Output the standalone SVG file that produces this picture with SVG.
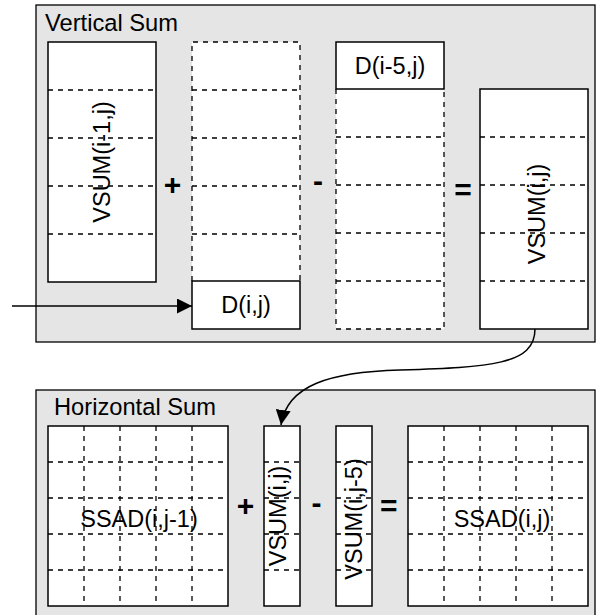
<svg xmlns="http://www.w3.org/2000/svg" width="601" height="615" viewBox="0 0 601 615">
<style>
.panel{fill:#e5e5e5;stroke:#000;stroke-width:1.3}
.box{fill:#fff;stroke:#000;stroke-width:1.5}
.dbox{fill:#fff;stroke:none}
.dash{fill:none;stroke:#000;stroke-width:1.3;stroke-dasharray:5,5}
.lbl{font-family:"Liberation Sans",Arial,sans-serif;font-size:23.5px;fill:#000}
.op{font-family:"Liberation Sans",Arial,sans-serif;font-size:30px;font-weight:bold;fill:#000;text-anchor:middle}
.title{font-family:"Liberation Sans",Arial,sans-serif;font-size:23.7px;fill:#000}
.conn{fill:none;stroke:#000;stroke-width:1.5}
</style>
<defs>
<marker id="ah" markerUnits="userSpaceOnUse" markerWidth="15" markerHeight="15" refX="15" refY="7.5" orient="auto">
<path d="M0,0 L15,7.5 L0,15 z" fill="#000"/>
</marker>
</defs>

<g id="vertical-sum">
<rect class="panel" x="36" y="5" width="559" height="337"/>
<text class="title" x="45" y="30.5">Vertical Sum</text>
</g>

<g id="horizontal-sum">
<rect class="panel" x="36" y="390" width="559" height="235"/>
<text class="title" x="54" y="415">Horizontal Sum</text>
</g>

<g id="vsum-i-1">
<rect class="box" x="48" y="42" width="108" height="240"/>
<path class="dash" d="M48,90H156M48,138H156M48,186H156M48,234H156"/>
<text class="lbl" transform="translate(110,162) rotate(-90)" text-anchor="middle">VSUM(i-1,j)</text>
</g>

<g id="op-plus-1"><text class="op" x="172.5" y="195">+</text></g>

<g id="column-d">
<rect class="dbox" x="192" y="42" width="108" height="239"/>
<path class="dash" d="M192,281V42H300V281"/>
<path class="dash" d="M192,90H300M192,138H300M192,186H300M192,234H300"/>
</g>

<g id="d-i-j">
<rect class="box" x="192" y="281" width="108" height="48"/>
<text class="lbl" x="246" y="313" text-anchor="middle">D(i,j)</text>
</g>

<g id="op-minus-1"><text class="op" x="318" y="190.5">-</text></g>

<g id="column-d5">
<rect class="dbox" x="336" y="89" width="108" height="240"/>
<path class="dash" d="M336,89V329H444V89"/>
<path class="dash" d="M336,137H444M336,185H444M336,233H444M336,281H444"/>
</g>

<g id="d-i-5-j">
<rect class="box" x="336" y="42" width="108" height="47"/>
<text class="lbl" x="390" y="73.5" text-anchor="middle">D(i-5,j)</text>
</g>

<g id="op-eq-1"><text class="op" x="463" y="200">=</text></g>

<g id="vsum-i-j">
<rect class="box" x="480" y="89" width="108" height="240"/>
<path class="dash" d="M480,137H588M480,185H588M480,233H588M480,281H588"/>
<text class="lbl" transform="translate(545,214) rotate(-90)" text-anchor="middle">VSUM(i,j)</text>
</g>

<g id="ssad-i-j-1">
<rect class="box" x="48" y="426" width="180" height="180"/>
<path class="dash" d="M48,462H228M48,498H228M48,534H228M48,570H228M84,426V606M120,426V606M156,426V606M192,426V606"/>
<text class="lbl" x="139" y="526.5" text-anchor="middle">SSAD(i,j-1)</text>
</g>

<g id="op-plus-2"><text class="op" x="245.5" y="516">+</text></g>

<g id="vsum-h-i-j">
<rect class="box" x="264" y="426" width="36" height="180"/>
<path class="dash" d="M264,462H300M264,498H300M264,534H300M264,570H300"/>
<text class="lbl" transform="translate(286,516) rotate(-90)" text-anchor="middle">VSUM(i,j)</text>
</g>

<g id="op-minus-2"><text class="op" x="316.5" y="513">-</text></g>

<g id="vsum-i-j-5">
<rect class="box" x="336" y="426" width="36" height="180"/>
<path class="dash" d="M336,462H372M336,498H372M336,534H372M336,570H372"/>
<text class="lbl" transform="translate(362,519) rotate(-90)" text-anchor="middle">VSUM(i,j-5)</text>
</g>

<g id="op-eq-2"><text class="op" x="388.7" y="515.8">=</text></g>

<g id="ssad-i-j">
<rect class="box" x="408" y="426" width="180" height="180"/>
<path class="dash" d="M408,462H588M408,498H588M408,534H588M408,570H588M444,426V606M480,426V606M516,426V606M552,426V606"/>
<text class="lbl" x="502" y="526.5" text-anchor="middle">SSAD(i,j)</text>
</g>

<g id="connectors">
<path class="conn" d="M12,306H192" marker-end="url(#ah)"/>
<path class="conn" d="M535,329 C535,365 490,367 400,370 C330,372 287,385 281,425" marker-end="url(#ah)"/>
</g>
</svg>
